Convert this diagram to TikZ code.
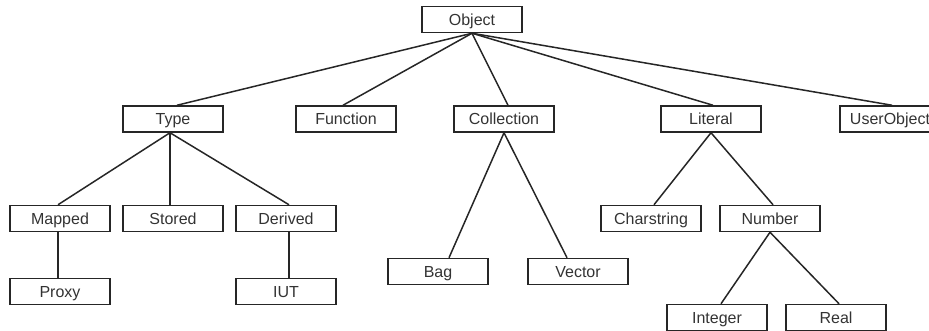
\documentclass[tikz,border=0pt]{standalone}
\usepackage{fontspec}
\setmainfont{Liberation Sans}
\begin{document}
\begin{tikzpicture}[x=1pt,y=-1pt,
  cls/.style={draw=black!85, line width=1.5pt, minimum width=100pt, minimum height=26pt, inner sep=0pt,
     font=\fontsize{16}{18}\selectfont, text=black!80, text depth=0pt, yshift=0pt},
  link/.style={draw=black!85, line width=1.5pt}]
\useasboundingbox (0,0) rectangle (929,331);
\clip (0,0) rectangle (929,331);
\node[cls] (obj) at (472,19.5) {Object};
\node[cls] (type) at (173,119) {Type};
\node[cls] (func) at (346,119) {Function};
\node[cls] (coll) at (504,119) {Collection};
\node[cls] (lit) at (711,119) {Literal};
\node[cls] (uobj) at (890,119) {UserObject};
\node[cls] (map) at (60,218.5) {Mapped};
\node[cls] (sto) at (173,218.5) {Stored};
\node[cls] (der) at (286,218.5) {Derived};
\node[cls] (prox) at (60,291.5) {Proxy};
\node[cls] (iut) at (286,291.5) {IUT};
\node[cls] (bag) at (438,271.5) {Bag};
\node[cls] (vec) at (578,271.5) {Vector};
\node[cls] (chs) at (651,218.5) {Charstring};
\node[cls] (num) at (770,218.5) {Number};
\node[cls] (int) at (717,317.5) {Integer};
\node[cls] (real) at (836,317.5) {Real};
\draw[link] (obj.south) -- ([xshift=4pt]type.north);
\draw[link] (obj.south) -- ([xshift=-3pt]func.north);
\draw[link] (obj.south) -- ([xshift=4pt]coll.north);
\draw[link] (obj.south) -- ([xshift=2pt]lit.north);
\draw[link] (obj.south) -- ([xshift=2pt]uobj.north);
\draw[link] ([xshift=-3pt]type.south) -- ([xshift=-2pt]map.north);
\draw[link] ([xshift=-3pt]type.south) -- ([xshift=-3pt]sto.north);
\draw[link] ([xshift=-3pt]type.south) -- ([xshift=3pt]der.north);
\draw[link] ([xshift=-2pt]map.south) -- ([xshift=-2pt]prox.north);
\draw[link] ([xshift=3pt]der.south) -- ([xshift=3pt]iut.north);
\draw[link] (coll.south) -- ([xshift=11pt]bag.north);
\draw[link] (coll.south) -- ([xshift=-11pt]vec.north);
\draw[link] (lit.south) -- ([xshift=3pt]chs.north);
\draw[link] (lit.south) -- ([xshift=3pt]num.north);
\draw[link] (num.south) -- ([xshift=4pt]int.north);
\draw[link] (num.south) -- ([xshift=3pt]real.north);
\end{tikzpicture}
\end{document}
